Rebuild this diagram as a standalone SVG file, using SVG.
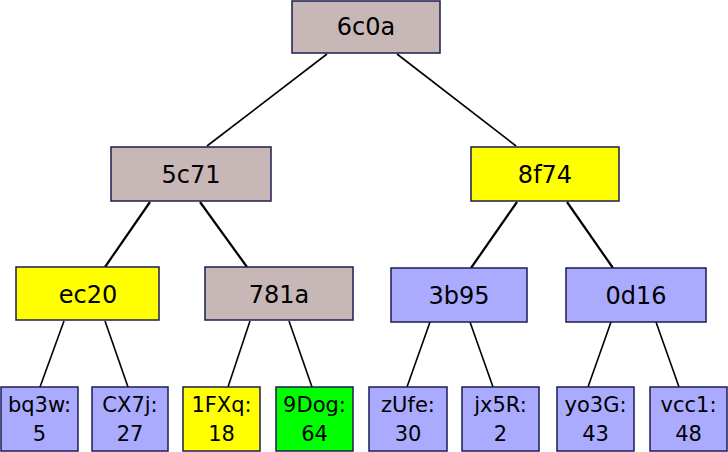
<svg xmlns="http://www.w3.org/2000/svg" width="728" height="452" viewBox="0 0 728 452">
<style>
.n rect{stroke:#1c1c50;stroke-width:1.5}
.m{fill:#c7b7b7}.b{fill:#aaaaff}.y{fill:#ffff00}.g{fill:#00ff00}
text{font-family:"DejaVu Sans",sans-serif;fill:#000;text-anchor:middle}
.t{font-size:24px}.l{font-size:21px}
#edges line{stroke:#000;stroke-width:1.6}
#edges .k{stroke-width:2.2}
</style>
<rect x="0" y="0" width="728" height="452" fill="#fff"/>
<g id="edges">
<line x1="327" y1="54" x2="207" y2="146"/>
<line x1="397" y1="54" x2="516" y2="146"/>
<line class="k" x1="150" y1="202" x2="105" y2="267"/>
<line class="k" x1="200" y1="202" x2="247" y2="267"/>
<line class="k" x1="517" y1="202" x2="471" y2="268"/>
<line class="k" x1="567" y1="202" x2="613" y2="268"/>
<line x1="64" y1="321" x2="40" y2="387"/>
<line x1="105" y1="321" x2="128" y2="387"/>
<line x1="250" y1="321" x2="228" y2="387"/>
<line x1="289" y1="321" x2="312" y2="387"/>
<line x1="430" y1="322" x2="407" y2="387"/>
<line x1="470" y1="322" x2="493" y2="387"/>
<line x1="611" y1="322" x2="588" y2="387"/>
<line x1="656" y1="322" x2="679" y2="387"/>
</g>
<g id="n6c0a" class="n"><rect class="m" x="292" y="1" width="148" height="52"/><text class="t" x="366" y="35">6c0a</text></g>
<g id="n5c71" class="n"><rect class="m" x="111" y="147" width="160" height="54"/><text class="t" x="191" y="183">5c71</text></g>
<g id="n8f74" class="n"><rect class="y" x="471" y="147" width="148" height="54"/><text class="t" x="545" y="183">8f74</text></g>
<g id="nec20" class="n"><rect class="y" x="16" y="267" width="143" height="53"/><text class="t" x="88" y="303">ec20</text></g>
<g id="n781a" class="n"><rect class="m" x="205" y="267" width="148" height="53"/><text class="t" x="279" y="303">781a</text></g>
<g id="n3b95" class="n"><rect class="b" x="391" y="268" width="136" height="54"/><text class="t" x="459" y="304">3b95</text></g>
<g id="n0d16" class="n"><rect class="b" x="566" y="268" width="140" height="54"/><text class="t" x="636" y="304">0d16</text></g>
<g id="nbq3w" class="n"><rect class="b" x="1" y="387" width="77" height="64"/><text class="l" x="39.5" y="412">bq3w:</text><text class="l" x="39.5" y="441">5</text></g>
<g id="nCX7j" class="n"><rect class="b" x="92" y="387" width="76" height="64"/><text class="l" x="130" y="412">CX7j:</text><text class="l" x="130" y="441">27</text></g>
<g id="n1FXq" class="n"><rect class="y" x="183" y="387" width="77" height="64"/><text class="l" x="221.5" y="412">1FXq:</text><text class="l" x="221.5" y="441">18</text></g>
<g id="n9Dog" class="n"><rect class="g" x="276" y="387" width="77" height="64"/><text class="l" x="314.5" y="412">9Dog:</text><text class="l" x="314.5" y="441">64</text></g>
<g id="nzUfe" class="n"><rect class="b" x="369" y="387" width="78" height="64"/><text class="l" x="408" y="412">zUfe:</text><text class="l" x="408" y="441">30</text></g>
<g id="njx5R" class="n"><rect class="b" x="462" y="387" width="77" height="64"/><text class="l" x="500.5" y="412">jx5R:</text><text class="l" x="500.5" y="441">2</text></g>
<g id="nyo3G" class="n"><rect class="b" x="557" y="387" width="77" height="64"/><text class="l" x="595.5" y="412">yo3G:</text><text class="l" x="595.5" y="441">43</text></g>
<g id="nvcc1" class="n"><rect class="b" x="650" y="387" width="77" height="64"/><text class="l" x="688.5" y="412">vcc1:</text><text class="l" x="688.5" y="441">48</text></g>
</svg>
